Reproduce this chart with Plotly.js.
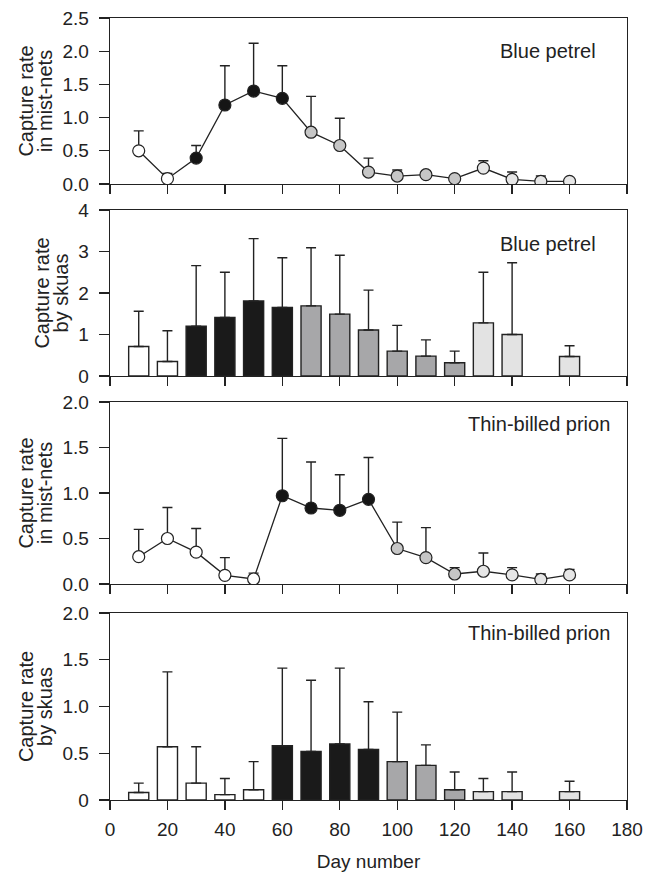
<!DOCTYPE html>
<html>
<head>
<meta charset="utf-8">
<script src="https://cdn.plot.ly/plotly-3.0.1.min.js"></script>
<style>html,body{margin:0;padding:0;background:#fff;}#chart{width:646px;height:875px;}</style>
</head>
<body>
<div id="chart"></div>
<script>
// ---------- DATA ----------
// Panel 1: Blue petrel, capture rate in mist-nets
const bpNetDays  = [10,20,30,40,50,60,70,80,90,100,110,120,130,140,150,160];
const bpNetMean  = [0.50,0.08,0.39,1.19,1.40,1.29,0.78,0.58,0.18,0.12,0.14,0.08,0.24,0.07,0.04,0.04];
const bpNetSE    = [0.30,0.08,0.19,0.59,0.72,0.49,0.54,0.41,0.21,0.09,0.05,0.00,0.11,0.11,0.08,0.00];
const bpNetPhase = ['pre','pre','inc','inc','inc','inc','chick','chick','chick','chick','chick','chick','post','post','post','post'];

// Panel 2: Blue petrel, capture rate by skuas
const bpSkuaDays  = [10,20,30,40,50,60,70,80,90,100,110,120,130,140,160];
const bpSkuaMean  = [0.71,0.35,1.20,1.41,1.81,1.65,1.69,1.49,1.11,0.60,0.48,0.32,1.28,1.00,0.47];
const bpSkuaSE    = [0.85,0.74,1.46,1.09,1.50,1.20,1.40,1.42,0.96,0.62,0.39,0.28,1.22,1.73,0.26];
const bpSkuaPhase = ['pre','pre','inc','inc','inc','inc','chick','chick','chick','chick','chick','chick','post','post','post'];

// Panel 3: Thin-billed prion, capture rate in mist-nets
const tpNetDays  = [10,20,30,40,50,60,70,80,90,100,110,120,130,140,150,160];
const tpNetMean  = [0.30,0.50,0.35,0.095,0.055,0.97,0.835,0.81,0.93,0.39,0.29,0.11,0.14,0.10,0.05,0.10];
const tpNetSE    = [0.30,0.34,0.26,0.195,0.065,0.63,0.505,0.39,0.46,0.29,0.33,0.07,0.20,0.08,0.06,0.06];
const tpNetPhase = ['pre','pre','pre','pre','pre','inc','inc','inc','inc','chick','chick','chick','post','post','post','post'];

// Panel 4: Thin-billed prion, capture rate by skuas
const tpSkuaDays  = [10,20,30,40,50,60,70,80,90,100,110,120,130,140,160];
const tpSkuaMean  = [0.08,0.57,0.18,0.057,0.11,0.58,0.52,0.60,0.54,0.41,0.37,0.11,0.09,0.09,0.09];
const tpSkuaSE    = [0.10,0.80,0.39,0.173,0.30,0.83,0.76,0.81,0.51,0.53,0.22,0.19,0.14,0.21,0.11];
const tpSkuaPhase = ['pre','pre','pre','pre','pre','inc','inc','inc','inc','chick','chick','chick','post','post','post'];

// Axis tick labels
const xTickVals = [0,20,40,60,80,100,120,140,160,180];
const xTickText = ['0','20','40','60','80','100','120','140','160','180'];
const y1TickVals = [0,0.5,1,1.5,2,2.5];
const y1TickText = ['0.0','0.5','1.0','1.5','2.0','2.5'];
const y2TickVals = [0,1,2,3,4];
const y2TickText = ['0','1','2','3','4'];
const y3TickVals = [0,0.5,1,1.5,2];
const y3TickText = ['0.0','0.5','1.0','1.5','2.0'];
const y4TickVals = [0,0.5,1,1.5,2];
const y4TickText = ['0','0.5','1.0','1.5','2.0'];

const panelLabels = ['Blue petrel','Blue petrel','Thin-billed prion','Thin-billed prion'];
const yTitleNets  = ['Capture rate','in mist-nets'];
const yTitleSkuas = ['Capture rate','by skuas'];
const xTitleText  = 'Day number';

// ---------- STYLE ----------
const INK = '#222222';
const markerFill = {pre:'#ffffff', inc:'#151515', chick:'#c6c6c6', post:'#e6e6e6'};
const barFill    = {pre:'#ffffff', inc:'#1a1a1a', chick:'#a7a7a9', post:'#e3e3e3'};
const FONT = 'Liberation Sans, Arial, Helvetica, sans-serif';
const TXT = 19;

function lineTrace(x, y, se, phase, xa, ya) {
  return {
    type:'scatter', mode:'lines+markers', x:x, y:y, xaxis:xa, yaxis:ya,
    line:{color:INK, width:1.3},
    marker:{size:12, color:phase.map(p=>markerFill[p]), line:{color:INK, width:1.2}},
    error_y:{type:'data', symmetric:false, array:se, arrayminus:se.map(()=>0),
             color:INK, thickness:1.4, width:5},
    showlegend:false, hoverinfo:'x+y'
  };
}
function barTrace(x, y, se, phase, xa, ya) {
  return {
    type:'bar', x:x, y:y, xaxis:xa, yaxis:ya, width:7,
    marker:{color:phase.map(p=>barFill[p]), line:{color:INK, width:1.4}},
    error_y:{type:'data', symmetric:false, array:se, arrayminus:se.map(()=>0),
             color:INK, thickness:1.4, width:5},
    showlegend:false, hoverinfo:'x+y'
  };
}

const data = [
  lineTrace(bpNetDays, bpNetMean, bpNetSE, bpNetPhase, 'x', 'y'),
  barTrace(bpSkuaDays, bpSkuaMean, bpSkuaSE, bpSkuaPhase, 'x2', 'y2'),
  lineTrace(tpNetDays, tpNetMean, tpNetSE, tpNetPhase, 'x3', 'y3'),
  barTrace(tpSkuaDays, tpSkuaMean, tpSkuaSE, tpSkuaPhase, 'x4', 'y4')
];

const W = 646, H = 875;
const xDom = [110/W, 627/W];
function yDom(top, bottom){ return [1-bottom/H, 1-top/H]; }
function twoLine(lines){ return lines.map(s=>'<span style="font-size:'+(TXT+1)+'px">'+s+'</span>').join('<br>'); }

function xAxis(anchor, showLabels) {
  return {
    domain:xDom, anchor:anchor, range:[0,180], tickmode:'array',
    tickvals:xTickVals, ticktext:xTickText, showticklabels:showLabels,
    ticks:'outside', ticklen:9, tickwidth:1.3, tickcolor:INK, ticklabelstandoff:3,
    showline:true, mirror:true, linecolor:INK, linewidth:1.3,
    showgrid:false, zeroline:false, fixedrange:true,
    tickfont:{family:FONT, size:TXT, color:INK}
  };
}
function yAxis(anchor, dom, range, tv, tt, titleLines) {
  return {
    domain:dom, anchor:anchor, range:range, tickmode:'array',
    tickvals:tv, ticktext:tt,
    ticks:'outside', ticklen:10, tickwidth:1.3, tickcolor:INK, ticklabelstandoff:6,
    showline:true, mirror:true, linecolor:INK, linewidth:1.3,
    showgrid:false, zeroline:false, fixedrange:true,
    tickfont:{family:FONT, size:TXT, color:INK},
    title:{text:twoLine(titleLines), font:{family:FONT, size:14.5, color:INK}, standoff:6}
  };
}

const xBottom = xAxis('y4', true);
xBottom.title = {text:xTitleText, font:{family:FONT, size:TXT, color:INK}, standoff:15};

function label(i, xr, ypix){
  return {text:panelLabels[i], xref:'paper', yref:'paper', x:xr/W, y:1-ypix/H,
          xanchor:'right', yanchor:'middle', showarrow:false,
          font:{family:FONT, size:20, color:INK}};
}

const layout = {
  width:W, height:H, margin:{l:0, r:0, t:0, b:0},
  paper_bgcolor:'#ffffff', plot_bgcolor:'#ffffff',
  font:{family:FONT, color:INK},
  bargap:0,
  xaxis: xAxis('y', false),
  xaxis2: xAxis('y2', false),
  xaxis3: xAxis('y3', false),
  xaxis4: xBottom,
  yaxis: yAxis('x', yDom(18,184), [0,2.5], y1TickVals, y1TickText, yTitleNets),
  yaxis2: yAxis('x2', yDom(210,376), [0,4], y2TickVals, y2TickText, yTitleSkuas),
  yaxis3: yAxis('x3', yDom(402,584), [0,2], y3TickVals, y3TickText, yTitleNets),
  yaxis4: yAxis('x4', yDom(613,800), [0,2], y4TickVals, y4TickText, yTitleSkuas),
  annotations: [label(0,598,51), label(1,598,244), label(2,612,424), label(3,612,633)]
};

Plotly.newPlot('chart', data, layout, {displayModeBar:false, staticPlot:true});
</script>
</body>
</html>
